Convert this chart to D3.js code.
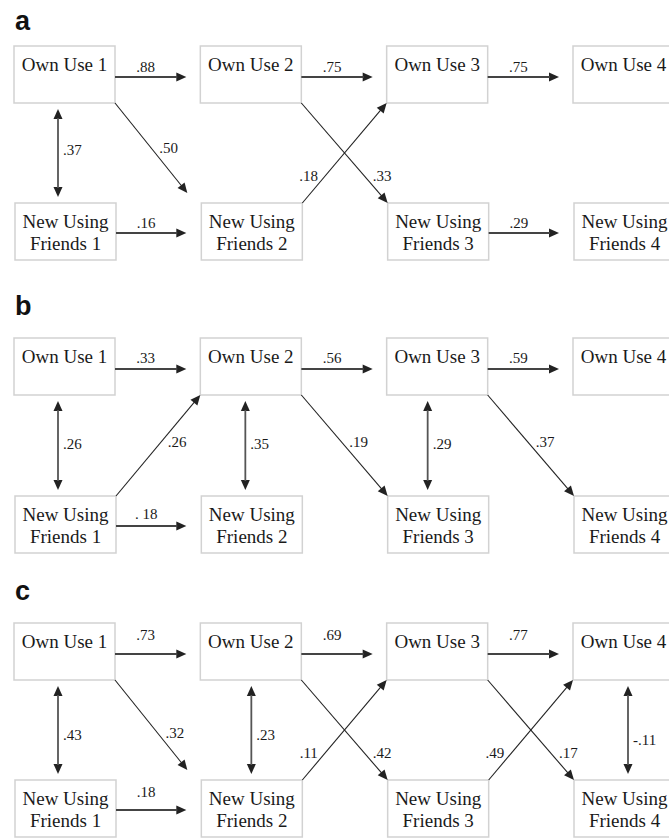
<!DOCTYPE html>
<html>
<head>
<meta charset="utf-8">
<script src="https://cdn.jsdelivr.net/npm/d3@7"></script>
<style>
  html, body { margin: 0; padding: 0; background: #fff; }
  svg { display: block; }
</style>
</head>
<body>
<svg id="chart" width="669" height="838"></svg>
<script>
// ---------------- data ----------------
const panelNames = ["a", "b", "c"];
const timePoints = [1, 2, 3, 4];
const ownUseLabels = ["Own Use 1", "Own Use 2", "Own Use 3", "Own Use 4"];
const friendsLine1 = ["New Using", "New Using", "New Using", "New Using"];
const friendsLine2 = ["Friends 1", "Friends 2", "Friends 3", "Friends 4"];

// paths: [from, to, coefficient label]  (O = Own Use, F = New Using Friends)
const pathsA = [
  ["O1", "O2", ".88"], ["O2", "O3", ".75"], ["O3", "O4", ".75"],
  ["O1", "F1", ".37"],
  ["O1", "F2", ".50"], ["F2", "O3", ".18"], ["O2", "F3", ".33"],
  ["F1", "F2", ".16"], ["F3", "F4", ".29"]
];
const pathsB = [
  ["O1", "O2", ".33"], ["O2", "O3", ".56"], ["O3", "O4", ".59"],
  ["O1", "F1", ".26"], ["O2", "F2", ".35"], ["O3", "F3", ".29"],
  ["F1", "O2", ".26"], ["O2", "F3", ".19"], ["O3", "F4", ".37"],
  ["F1", "F2", ". 18"]
];
const pathsC = [
  ["O1", "O2", ".73"], ["O2", "O3", ".69"], ["O3", "O4", ".77"],
  ["O1", "F1", ".43"], ["O2", "F2", ".23"], ["O4", "F4", "-.11"],
  ["O1", "F2", ".32"], ["O2", "F3", ".42"], ["F2", "O3", ".11"],
  ["O3", "F4", ".17"], ["F3", "O4", ".49"],
  ["F1", "F2", ".18"]
];
const panelPaths = [pathsA, pathsB, pathsC];

// ---------------- layout (not data) ----------------
const layout = {
  a: { letterY: 30, top: 46, bottom: 203, hRaiseTop: 5, hRaiseBot: 5, shift: 0, bidirDx: { 1: 44 } },
  b: { letterY: 315, top: 338, bottom: 496, hRaiseTop: 6, hRaiseBot: 7, shift: 1, bidirDx: { 1: 44, 2: 45, 3: 41 } },
  c: { letterY: 600, top: 623, bottom: 780, hRaiseTop: 14, hRaiseBot: 13, shift: 8, bidirDx: { 1: 44, 2: 51, 4: 55 } }
};
const boxW = 101, boxH = 57;
const serif = "'Liberation Serif', 'Times New Roman', Times, serif";
const sans = "'Liberation Sans', Arial, Helvetica, sans-serif";

const x = d3.scaleLinear().domain([1, 4]).range([14, 573]);

const svg = d3.select("#chart");

function arrowHead(g, x1, y1, x2, y2, color) {
  const L = 10, Wd = 4.5;
  const dx = x2 - x1, dy = y2 - y1, len = Math.hypot(dx, dy);
  const ux = dx / len, uy = dy / len, nx = -uy, ny = ux;
  const bx = x2 - ux * L, by = y2 - uy * L;
  g.append("path")
    .attr("d", d3.line()([[x2, y2], [bx + nx * Wd, by + ny * Wd], [bx - nx * Wd, by - ny * Wd]]) + "Z")
    .attr("fill", color);
  return [bx + ux * 1, by + uy * 1];
}

panelNames.forEach((pn, pi) => {
  const L = layout[pn];
  const g = svg.append("g");
  const rowY = r => (r === "O" ? L.top : L.bottom);

  g.append("text")
    .attr("x", 15).attr("y", L.letterY)
    .attr("font-family", sans).attr("font-weight", "bold").attr("font-size", 27)
    .attr("fill", "#111")
    .text(pn);

  // boxes
  timePoints.forEach((t, i) => {
    g.append("rect")
      .attr("x", x(t)).attr("y", L.top).attr("width", boxW).attr("height", boxH)
      .attr("fill", "#fff").attr("stroke", "#d2d2d2").attr("stroke-width", 1.5);
    g.append("text")
      .attr("x", x(t) + boxW / 2).attr("y", L.top + 25)
      .attr("text-anchor", "middle").attr("font-family", serif).attr("font-size", 19)
      .attr("fill", "#1a1a1a").text(ownUseLabels[i]);

    g.append("rect")
      .attr("x", x(t) + 1).attr("y", L.bottom).attr("width", boxW).attr("height", boxH)
      .attr("fill", "#fff").attr("stroke", "#d2d2d2").attr("stroke-width", 1.5);
    const tx = g.append("text")
      .attr("text-anchor", "middle").attr("font-family", serif).attr("font-size", 19)
      .attr("fill", "#1a1a1a");
    tx.append("tspan").attr("x", x(t) + 1 + boxW / 2).attr("y", L.bottom + 25).text(friendsLine1[i]);
    tx.append("tspan").attr("x", x(t) + 1 + boxW / 2).attr("y", L.bottom + 47).text(friendsLine2[i]);
  });

  const paths = panelPaths[pi].map(([f, t, lab]) => ({
    fr: f[0], fc: +f[1], tr: t[0], tc: +t[1], lab
  }));

  const labelStyle = sel => sel.attr("font-family", serif).attr("font-size", 15).attr("fill", "#1a1a1a");

  paths.forEach(p => {
    const gapTop = L.top + boxH, gapBot = L.bottom, mid = (gapTop + gapBot) / 2;
    if (p.fr === p.tr) {
      // horizontal autoregressive path
      const y = p.fr === "O" ? L.top + 31 : L.bottom + 30;
      const x1 = x(p.fc) + boxW + (p.fr === "F" ? 1 : 0);
      const x2 = x(p.tc) - 14;
      const [ex, ey] = arrowHead(g, x1, y, x2, y, "#222");
      g.append("line").attr("x1", x1).attr("y1", y).attr("x2", ex).attr("y2", ey)
        .attr("stroke", "#444").attr("stroke-width", 1.8);
      const raise = p.fr === "O" ? L.hRaiseTop : L.hRaiseBot;
      g.append("text").call(labelStyle)
        .attr("x", (x1 + x2) / 2 - 5).attr("y", y - raise).attr("text-anchor", "middle")
        .text(p.lab);
    } else if (p.fc === p.tc) {
      // bidirectional correlation
      const cx = x(p.fc) + L.bidirDx[p.fc];
      const y1 = gapTop + 6, y2 = gapBot - 6;
      const [sx, sy] = arrowHead(g, cx, y2, cx, y1, "#222");
      const [ex, ey] = arrowHead(g, cx, y1, cx, y2, "#222");
      g.append("line").attr("x1", sx).attr("y1", sy).attr("x2", ex).attr("y2", ey)
        .attr("stroke", "#555").attr("stroke-width", 1.8);
      g.append("text").call(labelStyle)
        .attr("x", cx + 5).attr("y", mid + 2 + L.shift + (p.lab.startsWith("-") ? 5 : 0))
        .text(p.lab);
    } else {
      // cross-lagged diagonal path
      const down = p.fr === "O";
      let x1, y1, x2, y2;
      if (down) {
        x1 = x(p.fc) + boxW; y1 = gapTop;
        x2 = x(p.tc) + 1; y2 = gapBot;
      } else {
        x1 = x(p.fc) + boxW + 1; y1 = gapBot;
        x2 = x(p.tc); y2 = gapTop;
      }
      const crossing = paths.some(q => q !== p && q.fr !== q.tr && q.fc === p.fc && q.tc === p.tc && q.fr !== p.fr);
      if (down && p.fc === 1 && !crossing) { x2 -= 14; y2 -= 10; }
      const [ex, ey] = arrowHead(g, x1, y1, x2, y2, "#222");
      g.append("line").attr("x1", x1).attr("y1", y1).attr("x2", ex).attr("y2", ey)
        .attr("stroke", "#222").attr("stroke-width", 1.1);
      const lineX = yy => x1 + (yy - y1) * (x2 - x1) / (y2 - y1);
      let by, lx, anchor = "start";
      if (crossing) {
        by = gapTop + 0.78 * (gapBot - gapTop);
      } else {
        by = mid + L.shift;
      }
      if (down) {
        lx = lineX(by) + 4;
      } else if (crossing) {
        lx = lineX(by) - 3; anchor = "end";
      } else {
        lx = lineX(by - 10) + 2;
      }
      g.append("text").call(labelStyle)
        .attr("x", lx).attr("y", by).attr("text-anchor", anchor)
        .text(p.lab);
    }
  });
});
</script>
</body>
</html>
